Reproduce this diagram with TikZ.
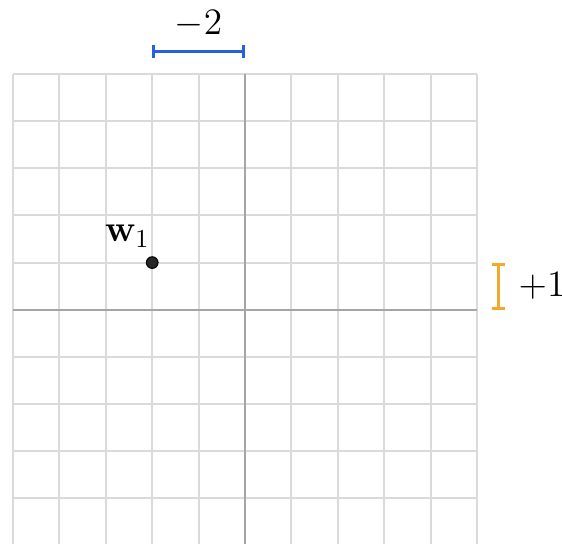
\documentclass[tikz,border=0pt]{standalone}
\usepackage{amsmath}
\usepackage{amssymb}
\usepackage{tikz}
\usetikzlibrary{positioning, arrows.meta, calc}
\definecolor{gridgray}{RGB}{218,218,218}
\definecolor{axisgray}{RGB}{165,165,165}
\definecolor{barblue}{RGB}{38,96,218}
\definecolor{barorange}{RGB}{246,168,44}
\tikzstyle{gridline} = [draw=gridgray, line width=0.8pt]
\tikzstyle{axisline} = [draw=axisgray, line width=0.8pt]
\tikzstyle{bar} = [line width=1.2pt, {Bar[width=5pt]}-{Bar[width=5pt]}]
\tikzstyle{dot} = [circle, fill=black!85, draw=black, inner sep=0pt, minimum size=4.5pt]
\tikzstyle{lab} = [font=\fontsize{14}{17}\selectfont, inner sep=1pt]
\def\barpos{5.47}

\begin{document}
\begin{tikzpicture}[x=0.63cm, y=0.64cm]
\useasboundingbox (-5.28,-4.96) rectangle (6.83,6.57);

% grid
\foreach \i in {-5,...,5} {
  \draw [gridline] (\i,-5) -- (\i,5);
  \draw [gridline] (-5,\i) -- (5,\i);
}
\draw [axisline] (-5,0) -- (5,0);
\draw [axisline] (0,-5) -- (0,5);

% point
\node (w1) [dot] at (-2,1) {};
\node (w1lab) [lab, above left=0.16 and -0.11 of w1] {$\mathbf{w}_1$};

% horizontal step
\coordinate (hl) at (-2,\barpos);
\coordinate (hr) at (0,\barpos);
\draw [bar, barblue] (hl) -- (hr);
\node (hlab) [lab, above=0.24 of $(hl)!0.5!(hr)$] {$-2$};

% vertical step
\coordinate (vb) at (\barpos,0);
\coordinate (vt) at (\barpos,1);
\draw [bar, barorange] (vb) -- (vt);
\node (vlab) [lab, right=0.36 of $(vb)!0.5!(vt)$] {$+1$};

\end{tikzpicture}
\end{document}
